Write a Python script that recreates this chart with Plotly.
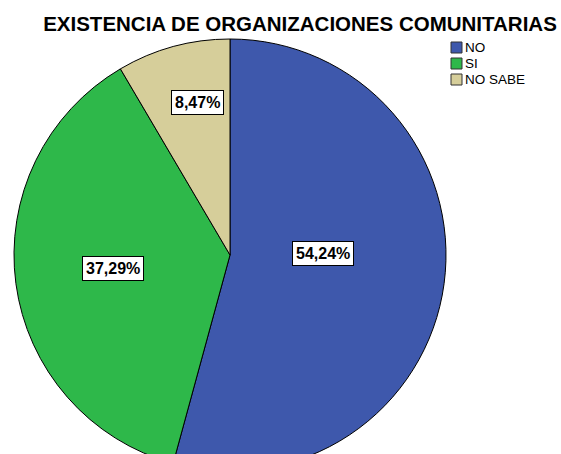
import plotly.graph_objects as go

# ---- data ----
categories = ["NO", "SI", "NO SABE"]
percentages = [54.24, 37.29, 8.47]
label_texts = ["54,24%", "37,29%", "8,47%"]
colors = ["#3E58AC", "#2EB84A", "#D6CE9A"]

title_text = "EXISTENCIA DE ORGANIZACIONES COMUNITARIAS"

# ---- layout constants (pixels) ----
W, H = 561, 476
CX, CY, R = 230, 255, 216
label_pos = [(323, 253.5), (113, 268.5), (197.5, 102.5)]
LEG_X, LEG_Y0, LEG_DY, SW = 451, 42, 16, 11
FONT = "Liberation Sans, Arial, sans-serif"


def px(x):
    return x / W


def py(y):
    return 1 - y / H


fig = go.Figure()
fig.add_trace(go.Pie(
    labels=categories,
    values=percentages,
    sort=False,
    direction="clockwise",
    rotation=0,
    marker=dict(colors=colors, line=dict(color="#000000", width=1)),
    textinfo="none",
    hoverinfo="label+percent",
    domain=dict(x=[px(CX - R), px(CX + R)], y=[py(CY + R), py(CY - R)]),
    showlegend=False,
))

for (lx, ly), t in zip(label_pos, label_texts):
    fig.add_annotation(
        x=px(lx), y=py(ly), xref="paper", yref="paper",
        text=f"<b>{t}</b>", showarrow=False,
        font=dict(family=FONT, size=16, color="#000000"),
        bgcolor="#FFFFFF", bordercolor="#000000", borderwidth=1, borderpad=3,
        xanchor="center", yanchor="middle",
    )

# legend drawn as swatches + text
for i, (cat, col) in enumerate(zip(categories, colors)):
    y0 = LEG_Y0 + i * LEG_DY
    fig.add_shape(type="rect", xref="paper", yref="paper",
                  x0=px(LEG_X), x1=px(LEG_X + SW), y0=py(y0), y1=py(y0 + SW),
                  fillcolor=col, line=dict(color="#333333", width=1))
    fig.add_annotation(x=px(LEG_X + SW + 1), y=py(y0 + SW / 2), xref="paper", yref="paper",
                       text=cat, showarrow=False, xanchor="left", yanchor="middle",
                       font=dict(family=FONT, size=13.5, color="#000000"))

fig.update_layout(
    width=W, height=H,
    margin=dict(l=0, r=0, t=0, b=0),
    paper_bgcolor="#FFFFFF",
    plot_bgcolor="#FFFFFF",
    showlegend=False,
    title=dict(text=f"<b>{title_text}</b>", x=px(300), xanchor="center",
               y=py(24), yanchor="middle",
               font=dict(family=FONT, size=20.5, color="#000000")),
)

fig.write_html("out.html", config={"displayModeBar": False},
               post_script="document.body.style.margin='0';document.body.style.overflow='hidden';")
